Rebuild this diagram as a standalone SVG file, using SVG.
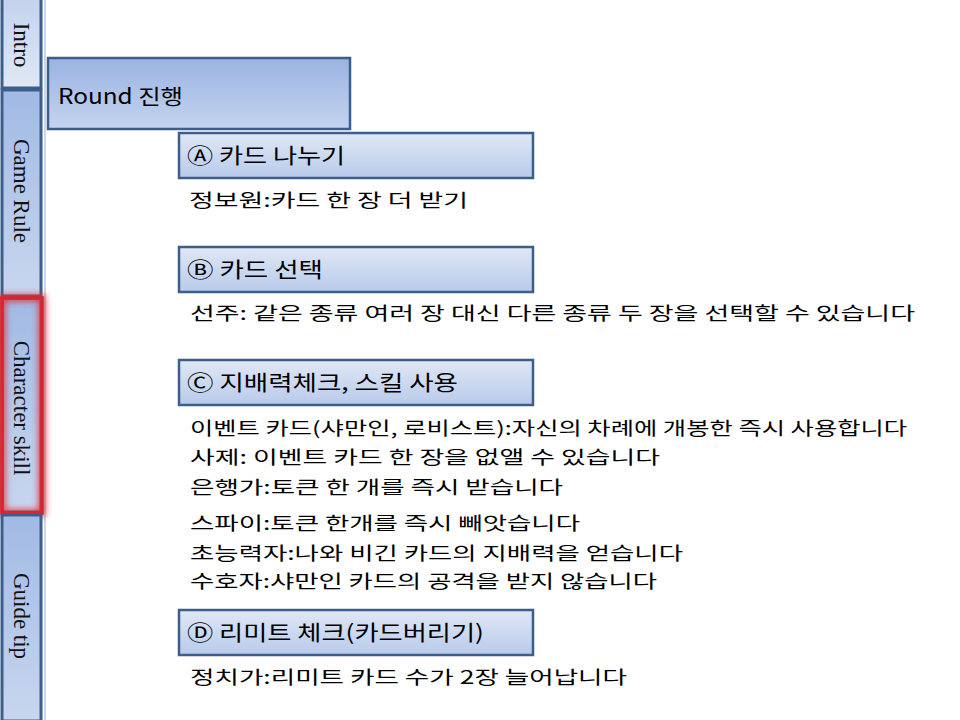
<svg xmlns="http://www.w3.org/2000/svg" width="960" height="720" viewBox="0 0 960 720">
<defs>
<linearGradient id="gTab" x1="0" y1="0" x2="0" y2="1"><stop offset="0" stop-color="#a1bae4"/><stop offset="1" stop-color="#c8d6ef"/></linearGradient>
<linearGradient id="gIntro" x1="0" y1="0" x2="0" y2="1"><stop offset="0" stop-color="#c3d2ee"/><stop offset="1" stop-color="#e0e8f6"/></linearGradient>
<linearGradient id="gRound" x1="0" y1="0" x2="0" y2="1"><stop offset="0" stop-color="#9ab3e2"/><stop offset="1" stop-color="#c5d4ef"/></linearGradient>
<linearGradient id="gSub" x1="0" y1="0" x2="0" y2="1"><stop offset="0" stop-color="#e0e8f6"/><stop offset="1" stop-color="#b8caea"/></linearGradient>
<filter id="glow" x="-50%" y="-20%" width="200%" height="140%"><feGaussianBlur stdDeviation="3"/></filter>
</defs>
<style>
.tab{stroke:#3b5e8c;stroke-width:3}
.box{stroke:#3b5e8c;stroke-width:2.5}
.tl{font-family:"Liberation Serif","Times New Roman",serif;font-size:23px;fill:#111}
.ti{font-family:"Noto Sans CJK KR","Noto Sans",sans-serif;font-size:21px;fill:#000}
.cap{font-family:"Noto Sans CJK KR","Noto Sans",sans-serif;font-size:18px;fill:#000}
</style>
<rect width="960" height="720" fill="#fff"/>
<line x1="45" y1="0" x2="45" y2="720" stroke="#c9d8f0" stroke-width="2"/>
<g id="tab-intro"><rect class="tab" x="2" y="-2" width="39" height="90" fill="url(#gIntro)"/>
<text class="tl" transform="translate(21,45) rotate(90)" text-anchor="middle" dominant-baseline="central">Intro</text></g>
<g id="tab-gamerule"><rect class="tab" x="2" y="90" width="39" height="206" fill="url(#gTab)"/>
<text class="tl" transform="translate(21,191) rotate(90)" text-anchor="middle" dominant-baseline="central">Game Rule</text></g>
<g id="tab-character"><rect class="tab" x="2" y="298" width="39" height="214" fill="url(#gTab)"/>
<rect x="2" y="298" width="40" height="215" fill="none" stroke="#e0303a" stroke-width="7" filter="url(#glow)" opacity="0.9"/>
<rect x="2" y="298" width="40" height="215" fill="none" stroke="#d9252f" stroke-width="3.5"/>
<text class="tl" transform="translate(21,408) rotate(90)" text-anchor="middle" dominant-baseline="central">Character skill</text></g>
<g id="tab-guide"><rect class="tab" x="2" y="515" width="39" height="206" fill="url(#gTab)"/>
<text class="tl" transform="translate(21,616) rotate(90)" text-anchor="middle" dominant-baseline="central">Guide tip</text></g>
<g id="round"><rect class="box" x="48" y="58" width="302" height="71" fill="url(#gRound)"/>
<text class="ti" x="58" y="104" textLength="125" lengthAdjust="spacingAndGlyphs">Round 진행</text></g>
<g id="stepA"><rect class="box" x="179" y="133" width="354" height="45" fill="url(#gSub)"/>
<text class="ti" x="187" y="163" textLength="158" lengthAdjust="spacingAndGlyphs">Ⓐ 카드 나누기</text>
<text class="cap" x="189" y="207" textLength="279" lengthAdjust="spacingAndGlyphs">정보원:카드 한 장 더 받기</text></g>
<g id="stepB"><rect class="box" x="179" y="247" width="354" height="45" fill="url(#gSub)"/>
<text class="ti" x="187" y="277" textLength="136" lengthAdjust="spacingAndGlyphs">Ⓑ 카드 선택</text>
<text class="cap" x="190" y="320" textLength="725" lengthAdjust="spacingAndGlyphs">선주: 같은 종류 여러 장 대신 다른 종류 두 장을 선택할 수 있습니다</text></g>
<g id="stepC"><rect class="box" x="179" y="360" width="354" height="45" fill="url(#gSub)"/>
<text class="ti" x="187" y="390" textLength="271" lengthAdjust="spacingAndGlyphs">Ⓒ 지배력체크, 스킬 사용</text>
<text class="cap" x="190" y="435" textLength="717" lengthAdjust="spacingAndGlyphs">이벤트 카드(샤만인, 로비스트):자신의 차례에 개봉한 즉시 사용합니다</text>
<text class="cap" x="190" y="464" textLength="470" lengthAdjust="spacingAndGlyphs">사제: 이벤트 카드 한 장을 없앨 수 있습니다</text>
<text class="cap" x="190" y="494" textLength="373" lengthAdjust="spacingAndGlyphs">은행가:토큰 한 개를 즉시 받습니다</text>
<text class="cap" x="190" y="530" textLength="390" lengthAdjust="spacingAndGlyphs">스파이:토큰 한개를 즉시 빼앗습니다</text>
<text class="cap" x="190" y="560" textLength="493" lengthAdjust="spacingAndGlyphs">초능력자:나와 비긴 카드의 지배력을 얻습니다</text>
<text class="cap" x="190" y="588" textLength="467" lengthAdjust="spacingAndGlyphs">수호자:샤만인 카드의 공격을 받지 않습니다</text></g>
<g id="stepD"><rect class="box" x="179" y="610" width="354" height="45" fill="url(#gSub)"/>
<text class="ti" x="187" y="640" textLength="297" lengthAdjust="spacingAndGlyphs">Ⓓ 리미트 체크(카드버리기)</text>
<text class="cap" x="190" y="684" textLength="437" lengthAdjust="spacingAndGlyphs">정치가:리미트 카드 수가 2장 늘어납니다</text></g>
</svg>
